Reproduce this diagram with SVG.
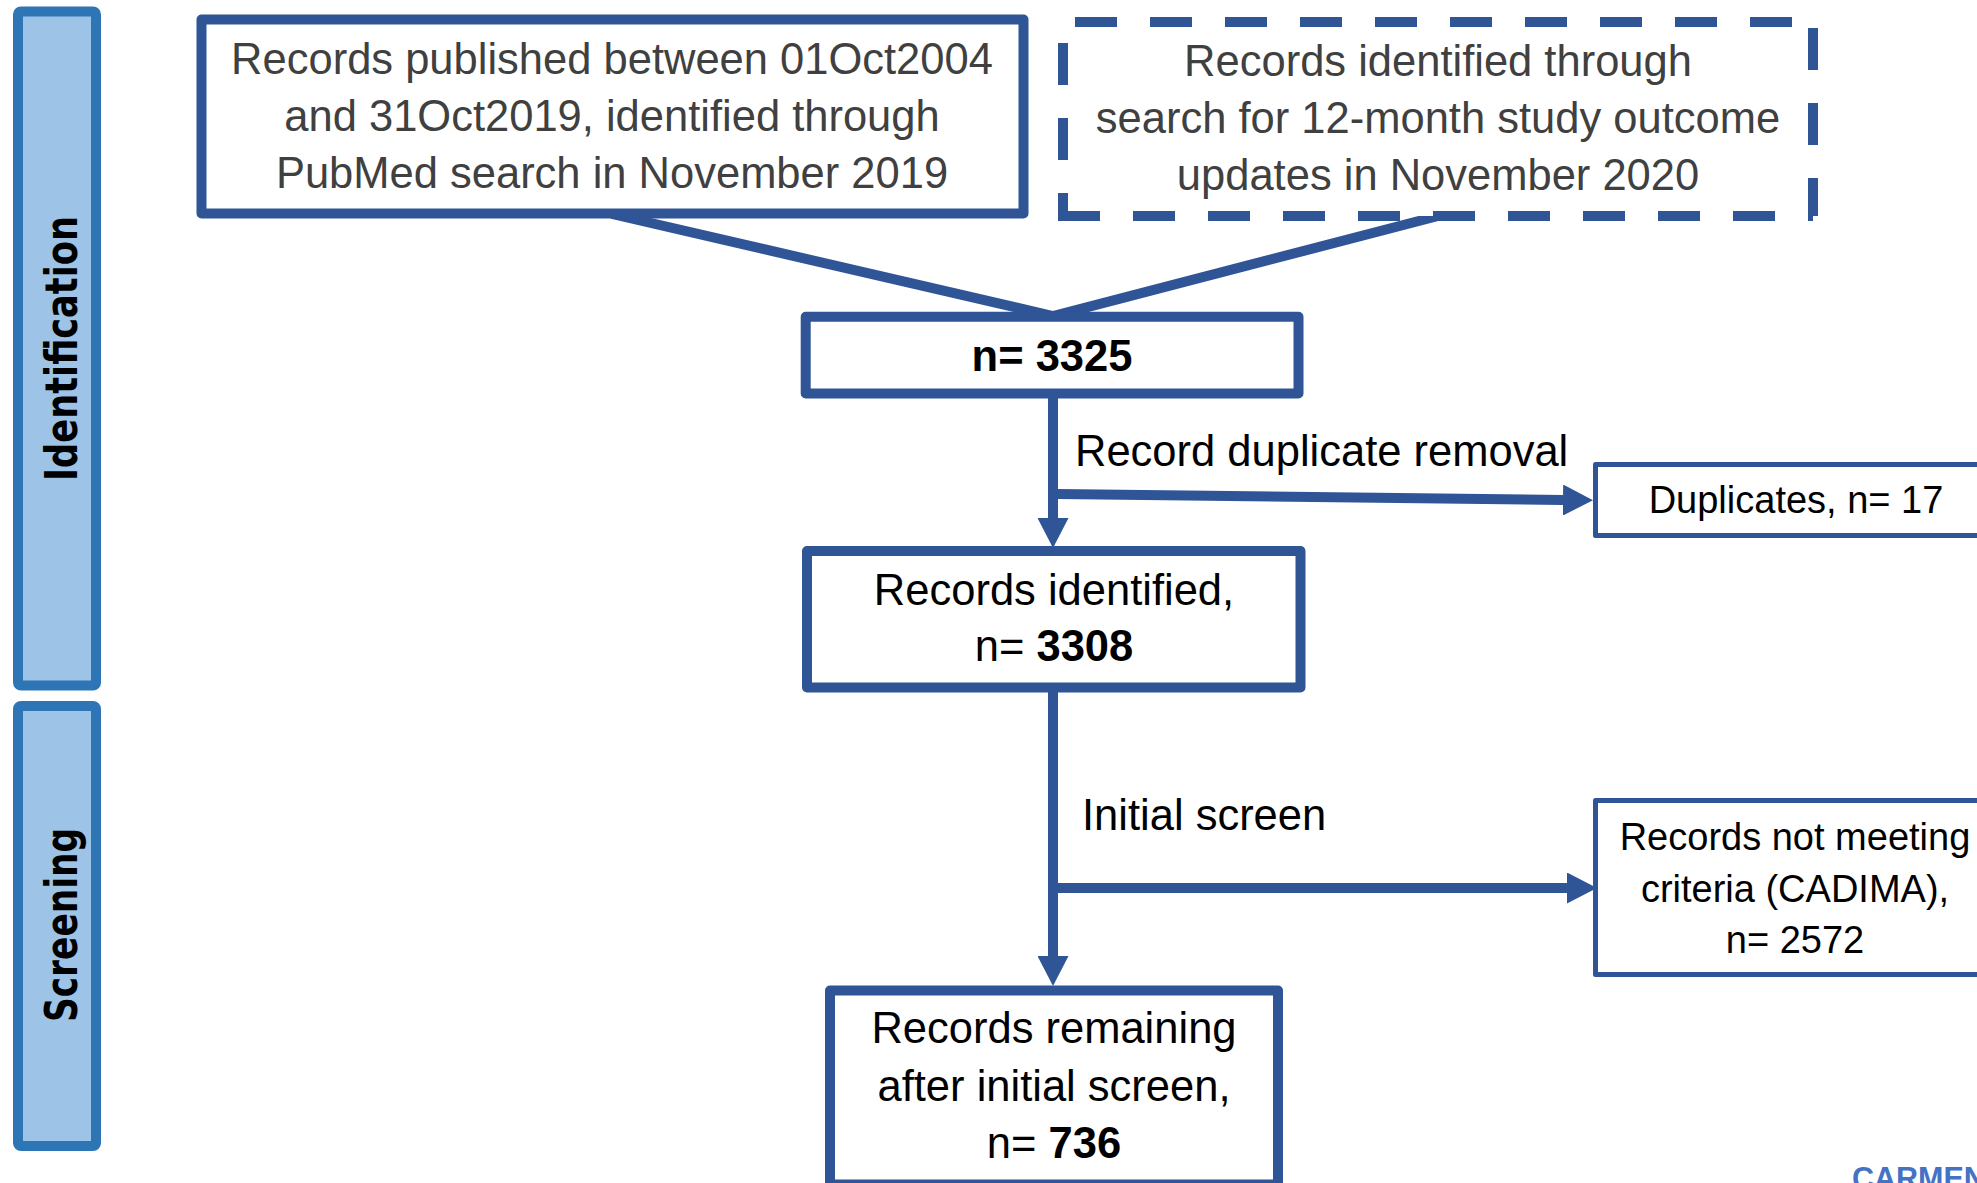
<svg xmlns="http://www.w3.org/2000/svg" width="1977" height="1183" viewBox="0 0 1977 1183">
<defs>
<style>
.side{fill:#9DC3E6;stroke:#2E75B6;stroke-width:10;stroke-linejoin:round}
.sidet{font-family:"DejaVu Sans",Verdana,sans-serif;font-weight:bold;font-size:45px;fill:#000;text-anchor:middle}
.box{fill:#fff;stroke:#2F5597;stroke-width:10;stroke-linejoin:round}
.thin{fill:#fff;stroke:#2F5597;stroke-width:5;stroke-linejoin:round}
.dash{fill:none;stroke:#2F5597;stroke-width:10;stroke-dasharray:42 33}
.con{fill:none;stroke:#2F5597;stroke-width:10}
.g{font-family:"Liberation Sans",Arial,sans-serif;font-size:43.5px;fill:#404040;text-anchor:middle}
.k{font-family:"Liberation Sans",Arial,sans-serif;font-size:43.5px;fill:#000;text-anchor:middle}
.s{font-family:"Liberation Sans",Arial,sans-serif;font-size:38px;fill:#000;text-anchor:middle}
.lbl{font-family:"Liberation Sans",Arial,sans-serif;font-size:43.5px;fill:#000}
.b{font-weight:bold}
</style>
<marker id="arr" markerUnits="userSpaceOnUse" markerWidth="30" markerHeight="31" refX="0" refY="15.5" orient="auto" viewBox="0 0 30 31">
<path d="M0,0 L30,15.5 L0,31 Z" fill="#2F5597"/>
</marker>
</defs>
<rect width="1977" height="1183" fill="#fff"/>

<g id="stage-identification">
<rect class="side" x="18" y="11.5" width="78" height="674" rx="3"/>
<text class="sidet" transform="translate(77,348.5) rotate(-90)" textLength="265" lengthAdjust="spacingAndGlyphs">Identification</text>
</g>
<g id="stage-screening">
<rect class="side" x="18" y="706" width="78" height="440" rx="3"/>
<text class="sidet" transform="translate(77,925) rotate(-90)" textLength="194" lengthAdjust="spacingAndGlyphs">Screening</text>
</g>

<g id="connectors">
<polyline class="con" stroke-width="11" points="612,214 1053,316 1438,216"/>
<line class="con" x1="1053" y1="398" x2="1053" y2="518" marker-end="url(#arr)"/>
<line class="con" x1="1058" y1="494" x2="1563" y2="500" marker-end="url(#arr)"/>
<line class="con" x1="1053" y1="692" x2="1053" y2="956" marker-end="url(#arr)"/>
<line class="con" stroke-width="12" x1="1058" y1="888" x2="1567" y2="888" marker-end="url(#arr)"/>
</g>

<g id="node-pubmed">
<rect class="box" stroke-width="11" x="201.5" y="19.5" width="822" height="194"/>
<text class="g" x="612" y="74">Records published between 01Oct2004</text>
<text class="g" x="612" y="131">and 31Oct2019, identified through</text>
<text class="g" x="612" y="188">PubMed search in November 2019</text>
</g>

<g id="node-update">
<rect x="1063" y="22" width="750" height="194" fill="#fff"/>
<line class="dash" x1="1063" y1="22" x2="1813" y2="22" stroke-dashoffset="63"/>
<line class="dash" x1="1813" y1="22" x2="1813" y2="216" stroke-dashoffset="69"/>
<line class="dash" x1="1058" y1="216" x2="1813" y2="216" stroke-dashoffset="0"/>
<line class="dash" x1="1063" y1="22" x2="1063" y2="221" stroke-dashoffset="54"/>
<text class="g" x="1438" y="76">Records identified through</text>
<text class="g" x="1438" y="133">search for 12-month study outcome</text>
<text class="g" x="1438" y="190">updates in November 2020</text>
</g>

<g id="node-total">
<rect class="box" x="805.7" y="316.7" width="492.8" height="76.8"/>
<text class="k b" x="1052" y="371">n= 3325</text>
</g>

<g id="node-duplicates">
<rect class="thin" x="1595.5" y="464.5" width="500" height="71"/>
<text class="s" x="1796" y="513">Duplicates, n= 17</text>
</g>

<g id="node-identified">
<rect class="box" x="807" y="551" width="493.5" height="136.5"/>
<text class="k" x="1054" y="605">Records identified,</text>
<text class="k" x="1054" y="661">n= <tspan class="b">3308</tspan></text>
</g>

<g id="node-excluded">
<rect class="thin" x="1595.5" y="800.5" width="500" height="174"/>
<text class="s" x="1795" y="850">Records not meeting</text>
<text class="s" x="1795" y="902">criteria (CADIMA),</text>
<text class="s" x="1795" y="953">n= 2572</text>
</g>

<g id="node-remaining">
<rect class="box" x="830" y="990.5" width="448" height="194"/>
<text class="k" x="1054" y="1043">Records remaining</text>
<text class="k" x="1054" y="1101">after initial screen,</text>
<text class="k" x="1054" y="1158">n= <tspan class="b">736</tspan></text>
</g>

<g id="labels">
<text class="lbl" x="1075" y="466">Record duplicate removal</text>
<text class="lbl" x="1082" y="830">Initial screen</text>
<text x="1852" y="1189" font-family="'Liberation Sans',Arial,sans-serif" font-weight="bold" font-size="30.5" fill="#4472C4">CARMEN</text>
</g>
</svg>
